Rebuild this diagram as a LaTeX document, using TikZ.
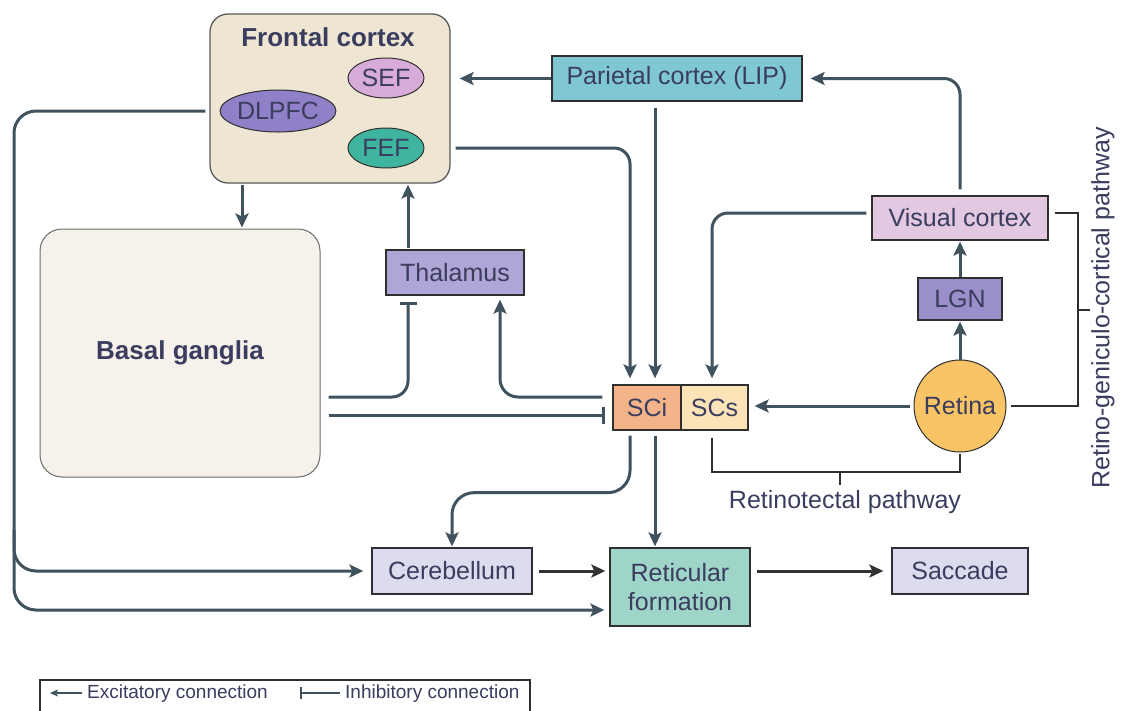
\documentclass[tikz,border=0pt]{standalone}
\usepackage{fontspec}
\setmainfont{Liberation Sans}
\usetikzlibrary{arrows.meta,shapes.geometric,positioning,calc}
\definecolor{txt}{HTML}{3A3D5E}
\definecolor{ln}{HTML}{3F525E}
\definecolor{bd}{HTML}{2F2F2F}
\definecolor{fcfill}{HTML}{EFE5D3}
\definecolor{bgfill}{HTML}{F6F1EA}
\definecolor{seff}{HTML}{D9ABD9}
\definecolor{dlf}{HTML}{8F80C8}
\definecolor{feff}{HTML}{3FB5A0}
\definecolor{parf}{HTML}{80C7D6}
\definecolor{thf}{HTML}{AFA5D6}
\definecolor{vcf}{HTML}{E2C8E0}
\definecolor{lgnf}{HTML}{9A8FCB}
\definecolor{retf}{HTML}{F8C465}
\definecolor{scif}{HTML}{F4B48A}
\definecolor{scsf}{HTML}{FDE4B8}
\definecolor{lavf}{HTML}{DCDCEE}
\definecolor{rff}{HTML}{9FD4C9}
\tikzset{
  box/.style={draw=bd, line width=1.3pt, inner sep=0pt, align=center,
    font=\fontsize{25}{29}\selectfont, text=txt},
  ell/.style={ellipse, draw=bd, line width=1pt, inner sep=0pt,
    font=\fontsize{25}{29}\selectfont, text=txt},
  exc/.style={draw=ln, line width=3pt, -{Stealth[length=14pt,width=13pt,inset=3pt]}},
  inh/.style={draw=ln, line width=3pt, -{Bar[width=17pt,line width=3pt]}},
  blk/.style={draw=black!80, line width=3pt, -{Stealth[length=14pt,width=13pt,inset=3pt]}},
  brk/.style={draw=bd, line width=1.3pt},
  lbl/.style={font=\fontsize{25}{29}\selectfont, text=txt, inner sep=0pt},
  leg/.style={font=\fontsize{19}{22}\selectfont, text=txt, inner sep=0pt, anchor=west},
}
\begin{document}
\begin{tikzpicture}[x=1pt,y=-1pt]
\useasboundingbox[fill=white] (0,0) rectangle (1123,710);

% frontal cortex
\node[box, draw=bd!80, fill=fcfill, rounded corners=18pt, minimum width=240pt, minimum height=169pt] (fc) at (330,98.5) {};
\node[lbl, font=\fontsize{26}{30}\selectfont\bfseries] (fct) at (328,37) {Frontal cortex};
\node[ell, fill=seff, minimum width=76pt, minimum height=40pt] (sef) at (386,78) {SEF};
\node[ell, fill=dlf, minimum width=106pt, minimum height=42pt] (dl) at (278,111) {DLPFC};
\node[ell, fill=feff, minimum width=76pt, minimum height=40pt] (fef) at (386,148) {FEF};

% basal ganglia
\node[box, draw=bd!70, line width=1pt, fill=bgfill, rounded corners=22pt, minimum width=280pt, minimum height=248pt,
  font=\fontsize{26}{30}\selectfont\bfseries] (bg) at (180,353) {Basal ganglia};

% other boxes
\node[box, fill=parf, minimum width=250pt, minimum height=45pt] (par) at (677,78.5) {Parietal cortex (LIP)};
\node[box, fill=vcf, minimum width=176pt, minimum height=44pt] (vc) at (960,218) {Visual cortex};
\node[box, fill=lgnf, minimum width=84pt, minimum height=42pt] (lgn) at (960,299) {LGN};
\node[box, circle, fill=retf, line width=1pt, minimum size=92pt] (ret) at (960,406) {Retina};
\node[box, fill=scif, minimum width=68pt, minimum height=45pt] (sci) at (647,407.5) {SCi};
\node[box, fill=scsf, minimum width=67pt, minimum height=45pt] (scs) at (714.5,407.5) {SCs};
\node[box, fill=thf, minimum width=138pt, minimum height=45pt] (thal) at (455,272.5) {Thalamus};
\node[box, fill=lavf, minimum width=160pt, minimum height=46pt] (cer) at (452,571) {Cerebellum};
\node[box, fill=rff, minimum width=140pt, minimum height=78pt] (rf) at (680,587) {Reticular\\formation};
\node[box, fill=lavf, minimum width=136pt, minimum height=46pt] (sac) at (960,571) {Saccade};

% connections
\draw[exc, shorten >=9pt] (par.west) -- (par.west -| fc.east);
\draw[exc, shorten >=6pt] ([xshift=-22pt,yshift=-6pt]par.south) -- ([xshift=8pt]sci.north);
\draw[exc, shorten >=6pt, rounded corners=16pt] ([xshift=5pt]fc.east |- fef.center) -| ([xshift=-17pt]sci.north);
\draw[exc, shorten >=8pt, rounded corners=16pt] ([yshift=6pt]vc.north) |- (par.east);
\draw[exc, shorten >=6pt, rounded corners=16pt] ([xshift=-5pt,yshift=5pt]vc.west) -| ([xshift=-2.5pt]scs.north);
\draw[exc, shorten <=4pt, shorten >=6pt] (ret.west) -- (ret.west -| scs.east);
\draw[exc, shorten >=1pt] (ret.north) -- (lgn.south);
\draw[exc, shorten >=1pt] (lgn.north) -- (vc.south);
\draw[exc, shorten <=1pt, shorten >=1pt] ([xshift=-47pt]thal.north) -- ([xshift=-47pt]thal.north |- fc.south);
\draw[exc, shorten <=1pt, shorten >=1pt] ([xshift=-88pt]fc.south) -- ([xshift=-88pt]fc.south |- bg.north);
\draw[inh, shorten >=6pt, rounded corners=16pt] ([xshift=8pt,yshift=-44pt]bg.east) -| ([xshift=-47pt]thal.south);
\draw[inh, shorten >=7pt] ([xshift=8pt,yshift=-62pt]bg.east) -- ([yshift=-62pt]bg.east -| sci.west);
\draw[exc, shorten >=4pt, rounded corners=18pt] ([xshift=-10pt,yshift=10.5pt]sci.west) -| ([xshift=45pt]thal.south);
\draw[exc, shorten >=1pt, rounded corners=22pt] ([xshift=-17pt,yshift=-5pt]sci.south) -- ++(0,57) -| (cer.north);
\draw[exc, shorten >=1pt] ([xshift=8pt,yshift=-5pt]sci.south) -- ([xshift=8pt]sci.south |- rf.north);
\draw[blk, shorten <=6pt, shorten >=4pt] (cer.east) -- (cer.east -| rf.west);
\draw[blk, shorten <=6pt, shorten >=8pt] (rf.east |- sac.west) -- (sac.west);

% long left connectors
\coordinate (lft) at (14,400);
\coordinate (br) at (14,530);
\draw[exc, shorten >=5pt, rounded corners=22pt] ([xshift=-4pt,yshift=-12.5pt]fc.west) -| (lft) |- ([yshift=-23pt]rf.west);
\draw[exc, shorten >=8pt, rounded corners=22pt] (br) |- (cer.west);

% brackets
\coordinate (rtb) at (840,472);
\draw[brk] ([xshift=-2.5pt,yshift=-7pt]scs.south) |- (rtb) -| ([yshift=-1pt]ret.south);
\draw[brk] (rtb) -- ++(0,13);
\node[lbl] (rtl) at (845,502) {Retinotectal pathway};
\coordinate (rgc) at (1078,310);
\draw[brk] ([xshift=6pt,yshift=5pt]vc.east) -| (rgc) |- ([xshift=4pt]ret.east);
\draw[brk] (rgc) -- ++(12,0);
\node[lbl, rotate=90] (rgl) at (1103,308) {Retino-geniculo-cortical pathway};

% legend
\node[draw=bd, line width=1.3pt, minimum width=490pt, minimum height=34pt, inner sep=0pt] (legbox) at (285,697) {};
\coordinate (la) at (82,693);
\coordinate (lb) at (50,693);
\draw[draw=ln, line width=1.6pt, -{Stealth[length=8pt,width=7pt,inset=2pt]}] (la) -- (lb);
\node[leg] (le) at (87,694) {Excitatory connection};
\coordinate (ia) at (340,693);
\coordinate (ib) at (300,693);
\draw[draw=ln, line width=1.6pt, -{Bar[width=12pt,line width=1.6pt]}] (ia) -- (ib);
\node[leg] (li) at (345,694) {Inhibitory connection};
\end{tikzpicture}
\end{document}
